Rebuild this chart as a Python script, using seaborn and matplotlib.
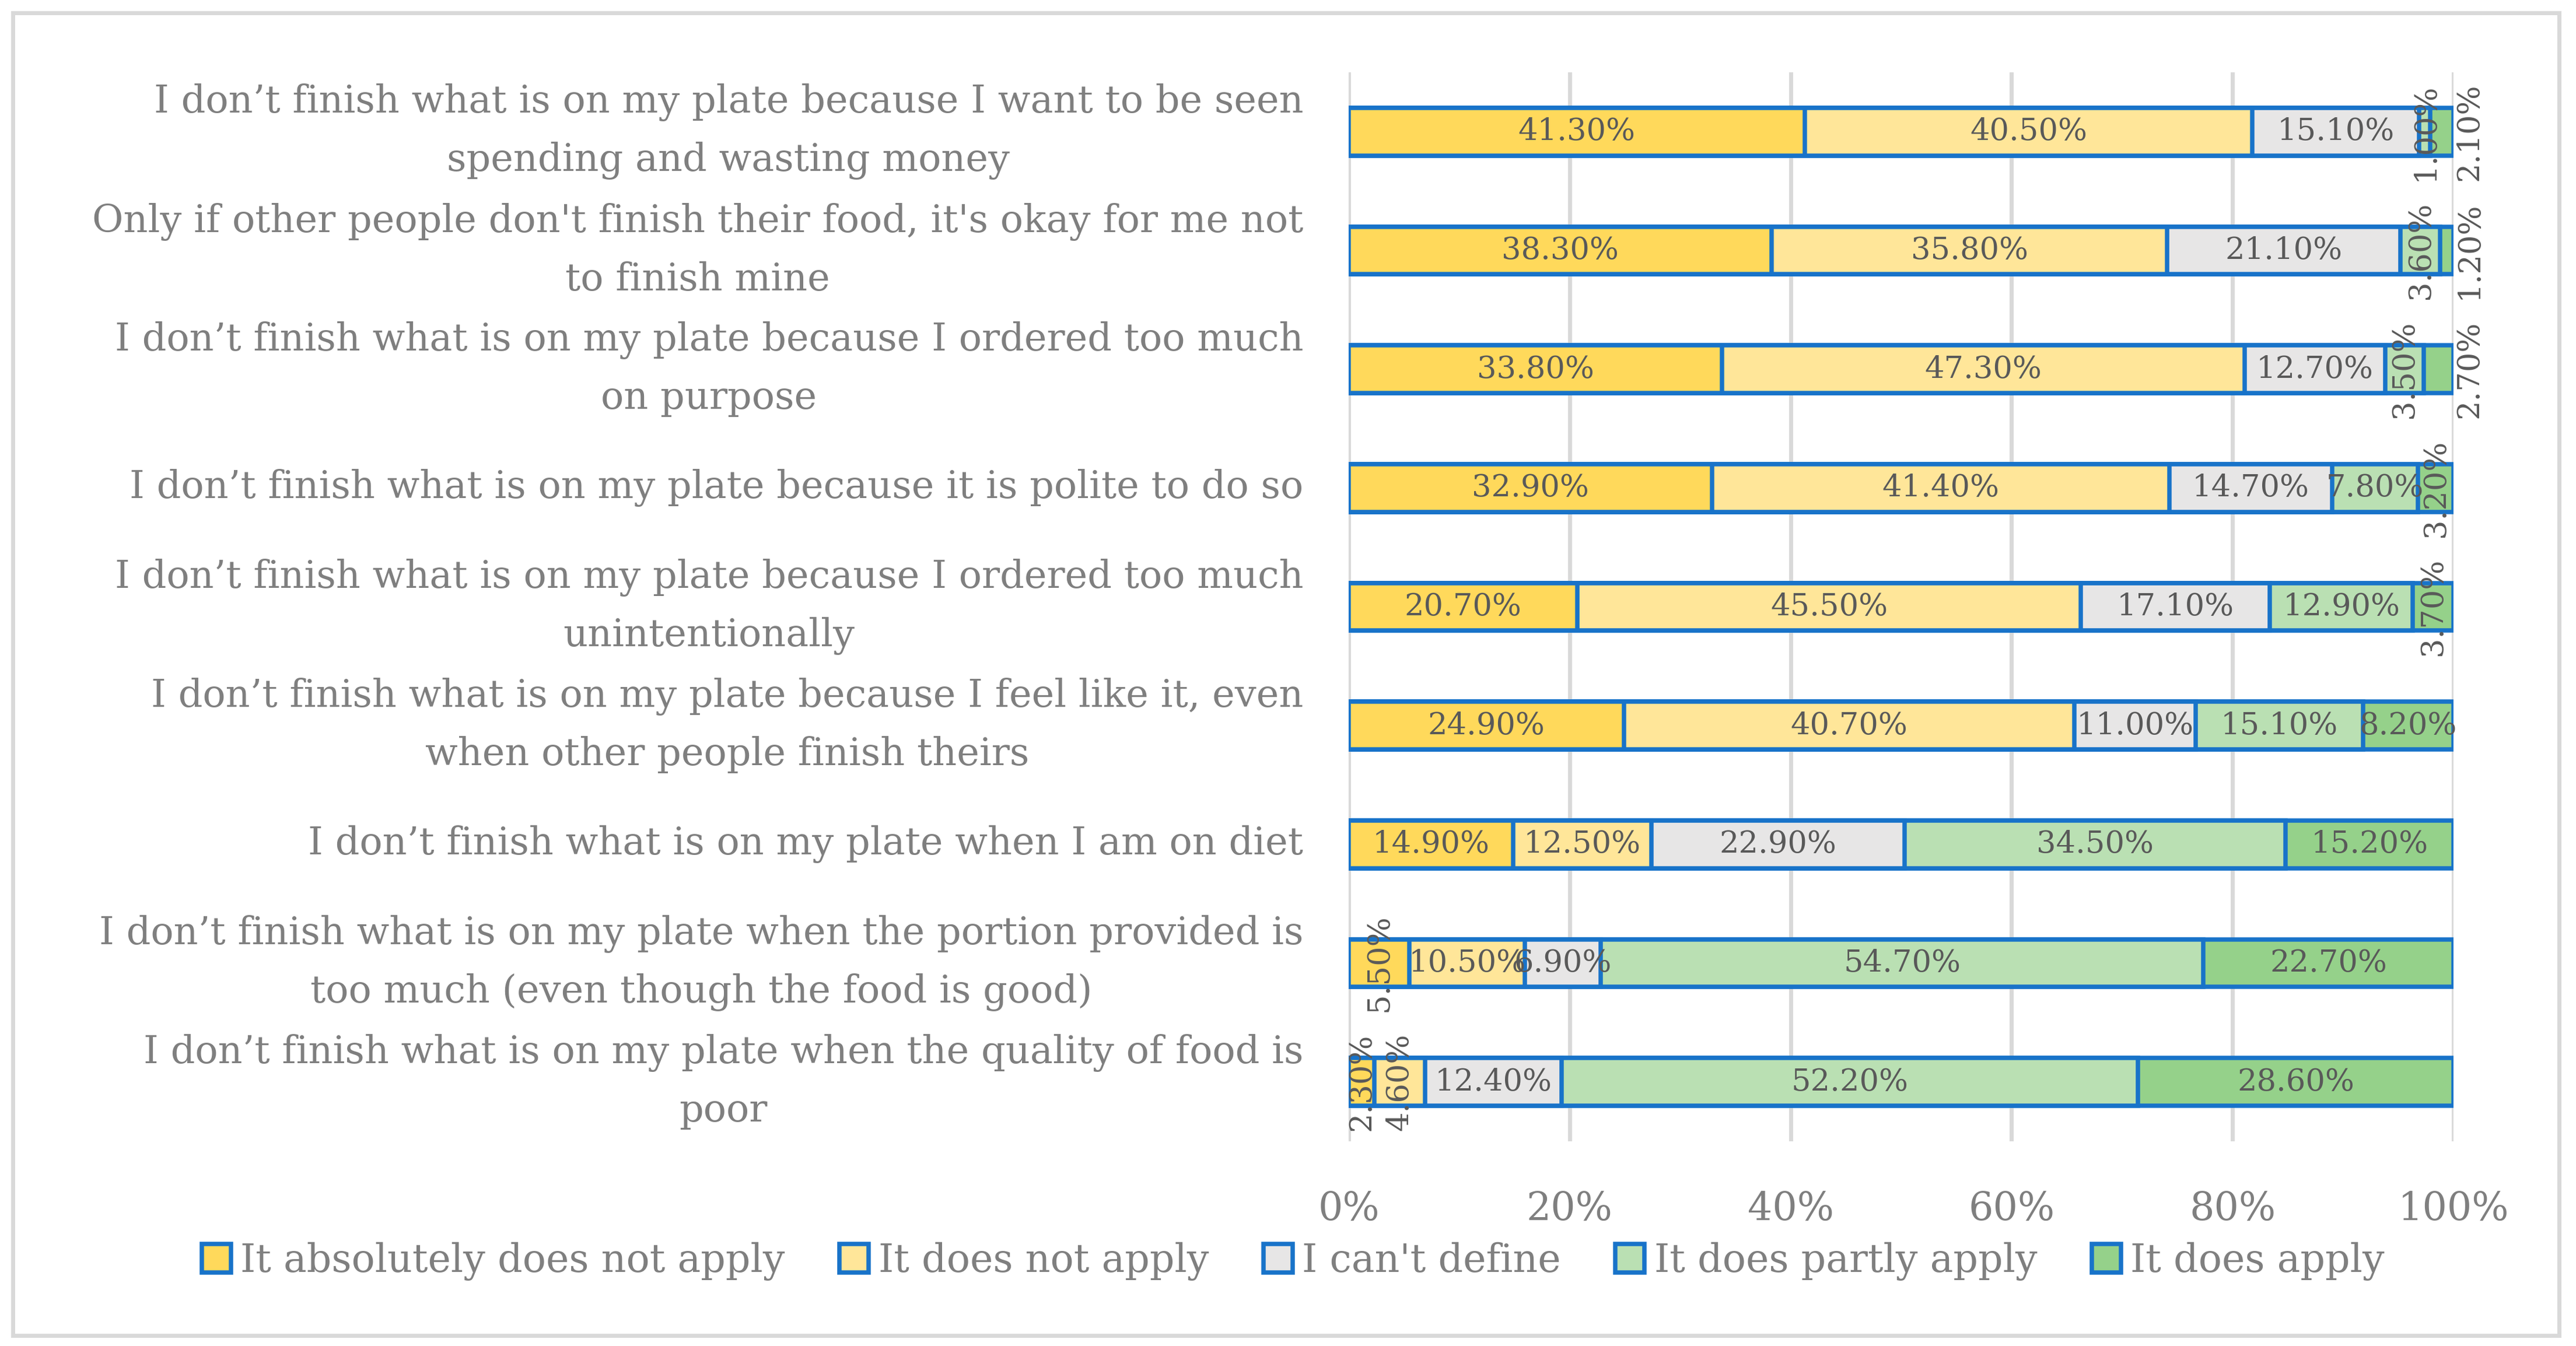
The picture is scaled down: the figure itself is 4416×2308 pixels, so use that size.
import numpy as np
import pandas as pd
import matplotlib
matplotlib.use("Agg")
import matplotlib.pyplot as plt
from matplotlib.patches import Rectangle
import seaborn as sns

categories = [
    "I don’t finish what is on my plate because I want to be seen\nspending and wasting money",
    "Only if other people don't finish their food, it's okay for me not\nto finish mine",
    "I don’t finish what is on my plate because I ordered too much\non purpose",
    "I don’t finish what is on my plate because it is polite to do so",
    "I don’t finish what is on my plate because I ordered too much\nunintentionally",
    "I don’t finish what is on my plate because I feel like it, even\nwhen other people finish theirs",
    "I don’t finish what is on my plate when I am on diet",
    "I don’t finish what is on my plate when the portion provided is\ntoo much (even though the food is good)",
    "I don’t finish what is on my plate when the quality of food is\npoor",
]
series_names = ["It absolutely does not apply", "It does not apply", "I can't define",
                "It does partly apply", "It does apply"]
absolutely_not = [41.3, 38.3, 33.8, 32.9, 20.7, 24.9, 14.9, 5.5, 2.3]
does_not = [40.5, 35.8, 47.3, 41.4, 45.5, 40.7, 12.5, 10.5, 4.6]
cant_define = [15.1, 21.1, 12.7, 14.7, 17.1, 11.0, 22.9, 6.9, 12.4]
partly = [1.0, 3.6, 3.5, 7.8, 12.9, 15.1, 34.5, 54.7, 52.2]
does_apply = [2.1, 1.2, 2.7, 3.2, 3.7, 8.2, 15.2, 22.7, 28.6]
xtick_values = [0, 20, 40, 60, 80, 100]

colors = ["#FFD95B", "#FFE699", "#E7E6E6", "#BAE0B3", "#95D18A"]
edge = "#1873C9"

W, H, DPI = 4416, 2308, 200
sns.set_theme(style="white")
plt.rcParams["font.family"] = ["DejaVu Serif", "DejaVu Sans"]

fig = plt.figure(figsize=(W / DPI, H / DPI), dpi=DPI)
ax = fig.add_axes([2312 / W, 1 - 1957 / H, (4206 - 2312) / W, (1957 - 124) / H])

vals = np.array([absolutely_not, does_not, cant_define, partly, does_apply])  # (5, 9)
totals = vals.sum(axis=0)
pct = vals / totals * 100
cum = np.cumsum(pct, axis=0)

lw = 2.7
for k in range(4, -1, -1):
    df = pd.DataFrame({"cat": categories, "val": cum[k]})
    sns.barplot(data=df, x="val", y="cat", orient="h", color=colors[k],
                edgecolor=edge, linewidth=lw, width=0.4, saturation=1,
                label=series_names[k], ax=ax, zorder=3)

handles, labels = ax.get_legend_handles_labels()
hmap = dict(zip(labels, handles))
if ax.get_legend() is not None:
    ax.get_legend().remove()

# value labels
vfs = 19
for k in range(5):
    for i in range(len(categories)):
        v = vals[k, i]
        left = cum[k, i] - pct[k, i]
        xc = left + pct[k, i] / 2
        txt = f"{v:.2f}%"
        if k == 4 and v < 3:
            ax.text(101.4, i, txt, rotation=90, ha="center", va="center",
                    fontsize=vfs, color="#595959", zorder=5, clip_on=False)
        elif v < 6:
            ax.text(xc, i, txt, rotation=90, ha="center", va="center",
                    fontsize=vfs, color="#595959", zorder=5, clip_on=False)
        else:
            ax.text(xc, i, txt, ha="center", va="center",
                    fontsize=vfs, color="#595959", zorder=5)

ax.set_xlim(0, 100)
ax.set_ylim(8.5, -0.5)
ax.set_xticks(xtick_values)
ax.set_xticklabels([f"{t}%" for t in xtick_values])
ax.set_xlabel("")
ax.set_ylabel("")
ax.grid(axis="x", color="#D9D9D9", linewidth=2.5, zorder=0)
ax.grid(axis="y", visible=False)
ax.set_axisbelow(True)
for s in ax.spines.values():
    s.set_visible(False)
ax.tick_params(axis="x", length=0, pad=30, labelsize=24, labelcolor="#7F7F7F")
ax.tick_params(axis="y", length=0, pad=28, labelsize=23.5, labelcolor="#7F7F7F")
for lab in ax.get_yticklabels():
    lab.set_multialignment("center")
    lab.set_linespacing(1.7)
    lab.set_verticalalignment("center")

leg = fig.legend([hmap[n] for n in series_names], series_names, loc="center",
                 bbox_to_anchor=(0.502, 1 - 2163 / H), ncol=5, frameon=False,
                 fontsize=24, handlelength=0.75, handleheight=0.75,
                 handletextpad=0.25, columnspacing=1.4, labelcolor="#7F7F7F")

fig.patches.append(Rectangle((22 / W, 1 - 2290 / H), (4387 - 22) / W, (2290 - 22) / H,
                             transform=fig.transFigure, fill=False,
                             edgecolor="#D9D9D9", linewidth=2.5, zorder=10))

fig.savefig("out.png", dpi=DPI, facecolor="white")
